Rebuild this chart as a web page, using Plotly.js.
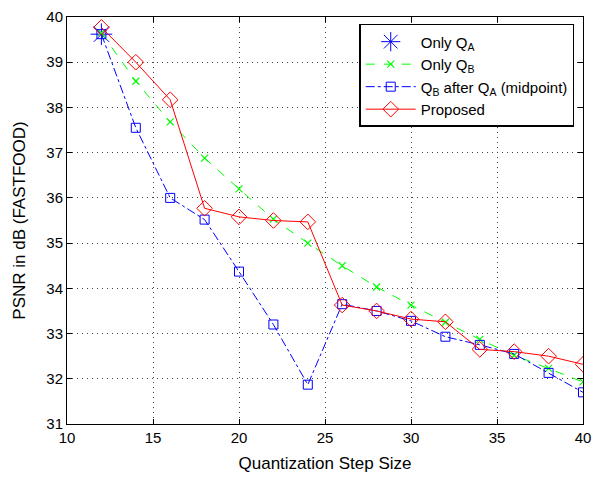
<!DOCTYPE html>
<html><head><meta charset="utf-8">
<script src="https://cdn.plot.ly/plotly-3.0.1.min.js"></script>
<style>body{margin:0;padding:0;background:#fff}#chart{width:593px;height:480px}</style>
</head><body><div id="chart"></div>
<script>
const xSteps = [12,14,16,18,20,22,24,26,28,30,32,34,36,38,40];
const onlyQA_x = [12];
const onlyQA_y = [39.62];
const onlyQB = [39.65,38.58,37.68,36.88,36.2,35.53,35.0,34.5,34.03,33.63,33.25,32.87,32.52,32.23,31.93];
const qbAfterQA = [39.62,37.55,36.0,35.52,34.37,33.2,31.87,33.65,33.5,33.28,32.93,32.75,32.55,32.13,31.7];
const proposed = [39.77,39.0,38.17,35.77,35.58,35.5,35.47,33.63,33.5,33.32,33.26,32.65,32.6,32.5,32.32];
const names = ['Only Q<sub>A</sub>','Only Q<sub>B</sub>','Q<sub>B</sub> after Q<sub>A</sub> (midpoint)','Proposed'];

const traces = [
 {x:onlyQA_x,y:onlyQA_y,name:names[0],mode:'markers',marker:{symbol:'asterisk-open',size:18,color:'#0000ff',line:{color:'#0000ff',width:1}}},
 {x:xSteps,y:onlyQB,name:names[1],mode:'lines+markers',line:{color:'#00ff00',dash:'dash',width:1},marker:{symbol:'x-thin-open',size:7,color:'#00ff00',line:{color:'#00ff00',width:1.2}}},
 {x:xSteps,y:qbAfterQA,name:names[2],mode:'lines+markers',line:{color:'#0000ff',dash:'dashdot',width:1},marker:{symbol:'square-open',size:9,color:'#0000ff',line:{width:1}}},
 {x:xSteps,y:proposed,name:names[3],mode:'lines+markers',line:{color:'#ff0000',width:1},marker:{symbol:'diamond-open',size:12,color:'#ff0000',line:{width:1}}}
];
const ax = {showline:true,linecolor:'#000',linewidth:1,mirror:'ticks',ticks:'inside',ticklen:5,tickcolor:'#000',
  showgrid:true,gridcolor:'#444',griddash:'1px,4px',gridwidth:1,zeroline:false,tickfont:{size:15,color:'#000'}};
const layout = {
 width:593,height:480,paper_bgcolor:'#fff',plot_bgcolor:'#fff',
 font:{family:'Liberation Sans, Arial, sans-serif',color:'#000'},
 margin:{l:67,r:10,t:17,b:56},
 showlegend:true,
 xaxis:Object.assign({},ax,{range:[10,40],tickvals:[10,15,20,25,30,35,40],title:{text:'Quantization Step Size',font:{size:17},standoff:12}}),
 yaxis:Object.assign({},ax,{range:[31,40],tickvals:[31,32,33,34,35,36,37,38,39,40],title:{text:'PSNR in dB (FASTFOOD)',font:{size:17},standoff:16}}),
 legend:{x:0.983,y:0.983,xanchor:'right',yanchor:'top',bgcolor:'#fff',bordercolor:'#000',borderwidth:1.5,font:{size:15},tracegroupgap:0,itemwidth:50}
};
Plotly.newPlot('chart',traces,layout,{displayModeBar:false,staticPlot:true});
</script></body></html>
